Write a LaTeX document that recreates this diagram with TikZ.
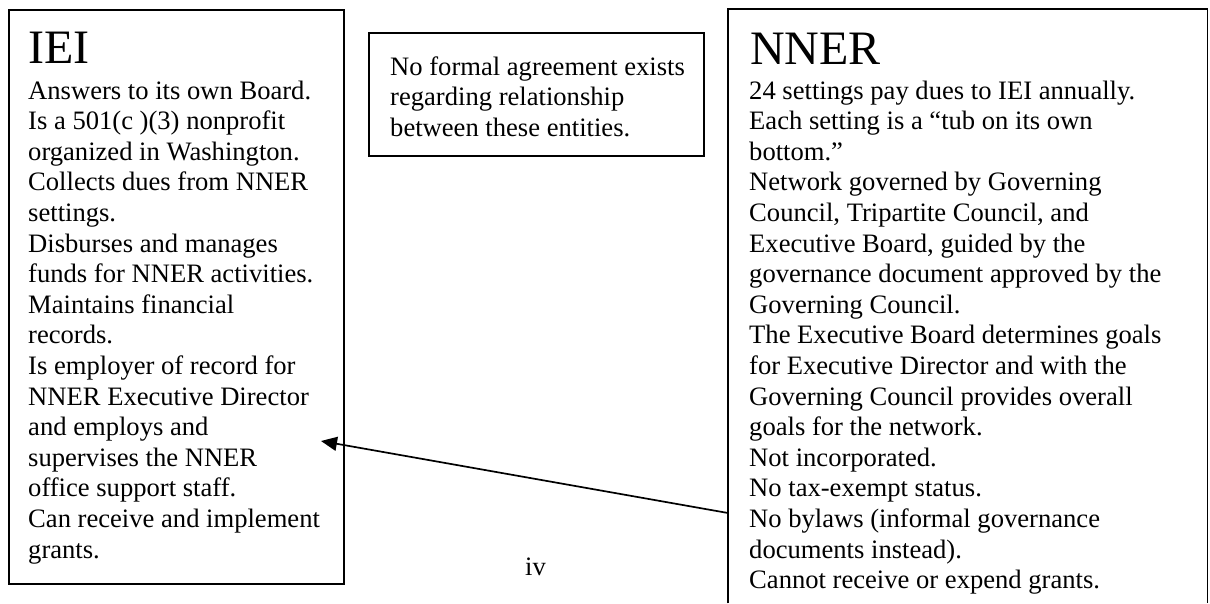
\documentclass[tikz,border=0pt]{standalone}
\usepackage{fontspec}
\setmainfont{Liberation Serif}
\usetikzlibrary{arrows.meta}
\newcommand{\bodysize}{\fontsize{26.6}{30.6}\selectfont}
\newcommand{\titlesize}{\fontsize{48}{55}\selectfont}
\begin{document}
\begin{tikzpicture}[x=1pt,y=-1pt,
  boxnode/.style={draw=black, line width=1.7pt, rectangle, inner sep=0pt, anchor=north west},
  framenode/.style={rectangle, inner sep=0pt, anchor=north west},
  titletext/.style={inner sep=0pt, anchor=base west, font=\titlesize},
  bodytext/.style={inner sep=0pt, anchor=base west, font=\bodysize},
  linkarrow/.style={line width=1.7pt, -{Triangle[length=16pt,width=14pt]}}]
\useasboundingbox[fill=white] (0,0) rectangle (1210,603);

% boxes
\node[boxnode, minimum width=335pt, minimum height=574pt] (iei) at (8,9) {};
\node[boxnode, minimum width=335pt, minimum height=123pt] (mid) at (368,32) {};
\node[framenode, minimum width=479pt, minimum height=594pt] (nner) at (728,9) {};
\draw[line width=1.7pt] (nner.south west) -- (nner.north west) -- (nner.north east) -- (nner.south east);

% IEI text
\node[titletext] (ieititle) at (28,63) {IEI};
\node[bodytext] (ieibody) at (28,99) {\parbox[t]{312pt}{\bodysize
Answers to its own Board.\\
Is a 501(c )(3) nonprofit\\
organized in Washington.\\
Collects dues from NNER\\
settings.\\
Disburses and manages\\
funds for NNER activities.\\
Maintains financial\\
records.\\
Is employer of record for\\
NNER Executive Director\\
and employs and\\
supervises the NNER\\
office support staff.\\
Can receive and implement\\
grants.}};

% middle text
\node[bodytext] (midtext) at (390,75) {\parbox[t]{310pt}{\bodysize
No formal agreement exists\\
regarding relationship\\
between these entities.}};

% NNER text
\node[titletext] (nnertitle) at (750,64) {NNER};
\node[bodytext] (nnerbody) at (749,99) {\parbox[t]{455pt}{\bodysize
24 settings pay dues to IEI annually.\\
Each setting is a “tub on its own\\
bottom.”\\
Network governed by Governing\\
Council, Tripartite Council, and\\
Executive Board, guided by the\\
governance document approved by the\\
Governing Council.\\
The Executive Board determines goals\\
for Executive Director and with the\\
Governing Council provides overall\\
goals for the network.\\
Not incorporated.\\
No tax-exempt status.\\
No bylaws (informal governance\\
documents instead).\\
Cannot receive or expend grants.}};

% page number
\node[bodytext] (pagenum) at (525,575) {iv};

% arrow
\coordinate (tip) at (321,441);
\draw[linkarrow] ([yshift=-504pt]nner.north west) -- (tip);
\end{tikzpicture}
\end{document}
